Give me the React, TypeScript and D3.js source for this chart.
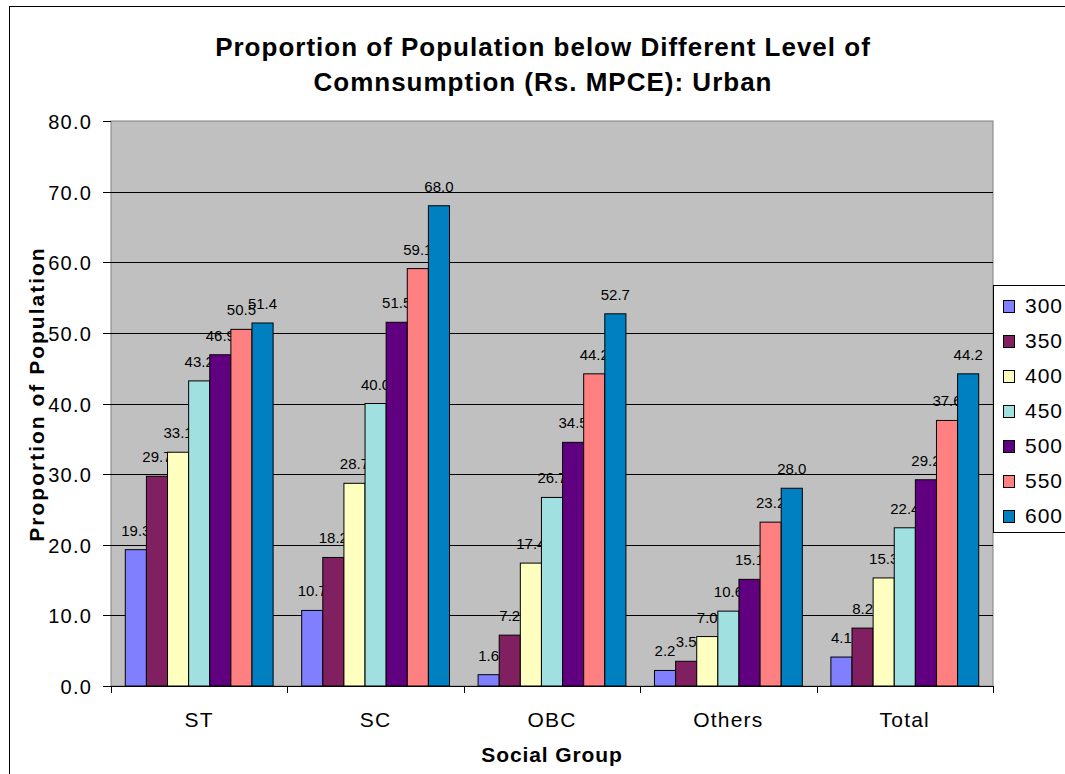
import React from "react";
import * as d3 from "d3";

const groups = ["ST", "SC", "OBC", "Others", "Total"];
const levels = ["300", "350", "400", "450", "500", "550", "600"];
const colors = ["#8080FF", "#802060", "#FFFFC0", "#A0E0E0", "#600080", "#FF8080", "#0080C0"];
const values: number[][] = [
  [19.3, 29.7, 33.1, 43.2, 46.9, 50.5, 51.4],
  [10.7, 18.2, 28.7, 40.0, 51.5, 59.1, 68.0],
  [1.6, 7.2, 17.4, 26.7, 34.5, 44.2, 52.7],
  [2.2, 3.5, 7.0, 10.6, 15.1, 23.2, 28.0],
  [4.1, 8.2, 15.3, 22.4, 29.2, 37.6, 44.2],
];
const yTicks = [0, 10, 20, 30, 40, 50, 60, 70, 80];

const W = 1065;
const H = 774;
const plot = { left: 111, right: 993, top: 121, bottom: 686 };
const font = "Arial, 'Liberation Sans', sans-serif";

export default function App() {
  const x0 = d3.scaleBand().domain(groups).range([plot.left, plot.right]);
  const side = x0.bandwidth() * 0.081;
  const x1 = d3.scaleBand().domain(levels).range([side, x0.bandwidth() - side]);
  const y = d3.scaleLinear().domain([0, 80]).range([plot.bottom, plot.top]);
  const px = (v: number) => Math.round(v) + 0.5;

  return (
    <div style={{ position: "fixed", left: 0, top: 0 }}>
      <svg width={W} height={H} style={{ display: "block", background: "#fff" }} fontFamily={font}>
        {/* outer chart border */}
        <rect x={9.5} y={6.5} width={W + 20} height={H + 20} fill="#fff" stroke="#000" />

        {/* title */}
        <text x={543} y={56} textAnchor="middle" fontSize={26} fontWeight="bold" letterSpacing={1}>
          Proportion of Population below Different Level of
        </text>
        <text x={543} y={91} textAnchor="middle" fontSize={26} fontWeight="bold" letterSpacing={1}>
          Comnsumption (Rs. MPCE): Urban
        </text>

        {/* plot area */}
        <rect
          x={plot.left}
          y={plot.top}
          width={plot.right - plot.left}
          height={plot.bottom - plot.top}
          fill="#C0C0C0"
          stroke="#808080"
        />

        {/* grid lines + y axis */}
        {yTicks.map((t) => (
          <g key={t}>
            {t > 0 && t < 80 && (
              <line x1={plot.left} x2={plot.right} y1={px(y(t))} y2={px(y(t))} stroke="#000" />
            )}
            <line x1={plot.left - 8} x2={plot.left} y1={px(y(t))} y2={px(y(t))} stroke="#000" />
            <text x={92} y={y(t) + 8} textAnchor="end" fontSize={20} letterSpacing={1.2}>
              {t.toFixed(1)}
            </text>
          </g>
        ))}

        {/* bars */}
        {groups.map((g, gi) => (
          <g key={g} transform={`translate(${x0(g)},0)`}>
            {levels.map((l, li) => {
              const v = values[gi][li];
              const bx = x1(l) as number;
              return (
                <g key={l}>
                  <rect
                    x={bx}
                    y={y(v)}
                    width={x1.bandwidth()}
                    height={y(0) - y(v)}
                    fill={colors[li]}
                    stroke="#000"
                    strokeWidth={1}
                  />
                  <text x={bx + x1.bandwidth() / 2} y={y(v) - 14} textAnchor="middle" fontSize={15}>
                    {v.toFixed(1)}
                  </text>
                </g>
              );
            })}
          </g>
        ))}

        {/* x axis */}
        <line x1={plot.left} x2={plot.right} y1={plot.bottom + 0.5} y2={plot.bottom + 0.5} stroke="#000" />
        {d3.range(groups.length + 1).map((i) => {
          const xx = px(plot.left + i * x0.step());
          return <line key={i} x1={xx} x2={xx} y1={plot.bottom} y2={plot.bottom + 7} stroke="#000" />;
        })}
        {groups.map((g) => (
          <text
            key={g}
            x={(x0(g) as number) + x0.bandwidth() / 2}
            y={727}
            textAnchor="middle"
            fontSize={21}
            letterSpacing={1.2}
          >
            {g}
          </text>
        ))}

        {/* axis titles */}
        <text x={552} y={762} textAnchor="middle" fontSize={21} fontWeight="bold" letterSpacing={0.9}>
          Social Group
        </text>
        <text
          transform={`translate(44,394) rotate(-90)`}
          textAnchor="middle"
          fontSize={21}
          fontWeight="bold"
          letterSpacing={2}
        >
          Proportion of Population
        </text>

        {/* legend */}
        <rect x={993.5} y={285.5} width={80} height={247} fill="#fff" stroke="#000" />
        {levels.map((l, i) => (
          <g key={l} transform={`translate(1003,${313 + i * 35})`}>
            <rect x={0.5} y={-12.5} width={11} height={12} fill={colors[i]} stroke="#000" />
            <text x={22} y={0} fontSize={21} letterSpacing={1}>
              {l}
            </text>
          </g>
        ))}
      </svg>
    </div>
  );
}
